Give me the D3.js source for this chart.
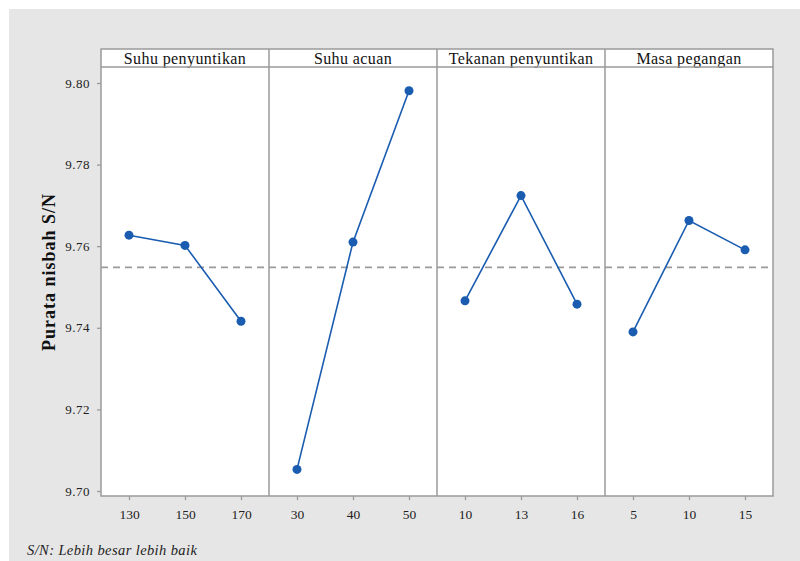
<!DOCTYPE html>
<html><head><meta charset="utf-8">
<script src="https://cdn.jsdelivr.net/npm/d3@7"></script>
<style>html,body{margin:0;padding:0;background:#fff;}</style>
</head><body>
<svg id="c" width="800" height="561"></svg>
<script>
const factors = ["Suhu penyuntikan", "Suhu acuan", "Tekanan penyuntikan", "Masa pegangan"];
const levels1 = ["130", "150", "170"];
const levels2 = ["30", "40", "50"];
const levels3 = ["10", "13", "16"];
const levels4 = ["5", "10", "15"];
const means1 = [9.7627, 9.7602, 9.7416];
const means2 = [9.7053, 9.7610, 9.7981];
const means3 = [9.7466, 9.7724, 9.7458];
const means4 = [9.7390, 9.7663, 9.7591];
const overallMean = 9.7548;
const yTicks = [9.70, 9.72, 9.74, 9.76, 9.78, 9.80];
const yLabel = "Purata nisbah S/N";
const footnote = "S/N: Lebih besar lebih baik";

const levels = [levels1, levels2, levels3, levels4];
const means = [means1, means2, means3, means4];

const svg = d3.select("#c");
const font = "'Liberation Serif','Times New Roman',serif";
svg.append("rect").attr("x", 9).attr("y", 9).attr("width", 791).attr("height", 552).attr("fill", "#e6e6e6");

const left = 101, right = 773, headTop = 49, headBot = 67, bottom = 496;
const panelX = d3.scaleBand().domain(factors).range([left, right]).paddingInner(0).paddingOuter(0);
const y = d3.scaleLinear().domain([9.70, 9.80]).range([491, 83]);
const gray = "#9a9a9a", blue = "#1a5cb0";

svg.append("rect").attr("x", left).attr("y", headTop).attr("width", right - left).attr("height", bottom - headTop).attr("fill", "#fff");

svg.append("line").attr("x1", left).attr("x2", right).attr("y1", y(overallMean)).attr("y2", y(overallMean))
  .attr("stroke", "#9a9a9a").attr("stroke-width", 1.8).attr("stroke-dasharray", "7,5");

factors.forEach((f, i) => {
  const x0 = panelX(f), w = panelX.bandwidth();
  const xs = d3.scalePoint().domain(levels[i]).range([x0, x0 + w]).padding(0.5);
  const g = svg.append("g");
  g.append("text").attr("x", x0 + w / 2).attr("y", headBot - 3).attr("text-anchor", "middle")
    .style("font-family", font).style("font-size", "16px").style("letter-spacing", "0.4px")
    .attr("fill", "#111").text(f);
  const ax = svg.append("g").attr("transform", `translate(0,${bottom})`)
    .call(d3.axisBottom(xs).tickSize(4).tickPadding(9));
  ax.select(".domain").remove();
  ax.selectAll("line").attr("stroke", gray).attr("stroke-width", 1.3);
  ax.selectAll("text").style("font-family", font).style("font-size", "13.5px").attr("fill", "#222");
  const data = levels[i].map((l, j) => ({l, v: means[i][j]}));
  g.append("path").datum(data).attr("fill", "none").attr("stroke", blue).attr("stroke-width", 1.6)
    .attr("d", d3.line().x(d => xs(d.l)).y(d => y(d.v)));
  g.selectAll("circle").data(data).join("circle").attr("cx", d => xs(d.l)).attr("cy", d => y(d.v))
    .attr("r", 4.5).attr("fill", blue);
  if (i > 0) svg.append("line").attr("x1", x0).attr("x2", x0).attr("y1", headTop).attr("y2", bottom)
    .attr("stroke", gray).attr("stroke-width", 1.5);
});

svg.append("line").attr("x1", left).attr("x2", right).attr("y1", headBot).attr("y2", headBot).attr("stroke", gray).attr("stroke-width", 1.5);
svg.append("rect").attr("x", left).attr("y", headTop).attr("width", right - left).attr("height", bottom - headTop)
  .attr("fill", "none").attr("stroke", gray).attr("stroke-width", 1.5);

const ay = svg.append("g").attr("transform", `translate(${left},0)`)
  .call(d3.axisLeft(y).tickValues(yTicks).tickFormat(d3.format(".2f")).tickSize(4).tickPadding(7));
ay.select(".domain").remove();
ay.selectAll("line").attr("stroke", gray).attr("stroke-width", 1.3);
ay.selectAll("text").style("font-family", font).style("font-size", "13px").style("letter-spacing", "0.5px").attr("fill", "#222");

svg.append("text").attr("transform", "translate(55,272) rotate(-90)").attr("text-anchor", "middle")
  .style("font-family", font).style("font-size", "18px").style("font-weight", "bold").style("letter-spacing", "1px")
  .attr("fill", "#111").text(yLabel);

svg.append("text").attr("x", 27).attr("y", 555).style("font-family", font).style("font-style", "italic")
  .style("font-size", "14.5px").style("letter-spacing", "0.4px").attr("fill", "#222").text(footnote);
</script>
</body></html>
